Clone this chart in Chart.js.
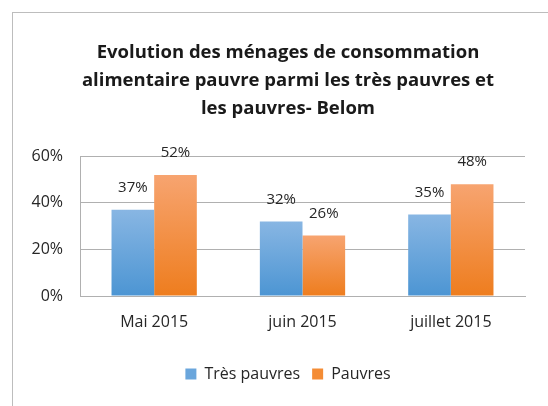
<!DOCTYPE html>
<html>
<head>
<meta charset="utf-8">
<script src="https://cdn.jsdelivr.net/npm/chart.js@4"></script>
<style>
  html, body { margin: 0; padding: 0; background: #fff; overflow: hidden; }
  #frame { position: absolute; left: 12px; top: 12px; width: 600px; height: 500px; border: 1px solid #bdbdbd; }
  #wrap { position: absolute; left: 0; top: 0; width: 576px; height: 406px; }
</style>
</head>
<body>
<div id="frame"></div>
<div id="wrap"><canvas id="myChart" width="576" height="406"></canvas></div>
<script>
// values (percent)
var categories = ["Mai 2015", "juin 2015", "juillet 2015"];
var tresPauvres = [37, 32, 35];
var pauvres = [52, 26, 48];
var seriesNames = ["Très pauvres", "Pauvres"];
var yTicks = [0, 20, 40, 60];

var FONT = "'Open Sans', sans-serif";

// each bar gets its own top-to-bottom gradient, like the original
function barGradient(light, dark) {
  return function (ctx) {
    var chart = ctx.chart;
    var y = chart.scales.y;
    if (!chart.chartArea || !y || ctx.type !== 'data') return dark;
    var top = y.getPixelForValue(ctx.raw);
    var base = y.getPixelForValue(0);
    if (!isFinite(top) || !isFinite(base) || top === base) return dark;
    var g = chart.ctx.createLinearGradient(0, top, 0, base);
    g.addColorStop(0, light);
    g.addColorStop(1, dark);
    return g;
  };
}

// draws the value above each bar
var valueLabels = {
  id: 'valueLabels',
  afterDatasetsDraw: function (chart) {
    var ctx = chart.ctx;
    ctx.save();
    ctx.font = "15px " + FONT;
    ctx.fillStyle = "#262626";
    ctx.textAlign = "center";
    ctx.textBaseline = "middle";
    chart.data.datasets.forEach(function (ds, i) {
      var meta = chart.getDatasetMeta(i);
      meta.data.forEach(function (bar, j) {
        ctx.fillText(ds.data[j] + "%", bar.x, bar.y - 22);
      });
    });
    ctx.restore();
  }
};

// title and legend are centred on the whole frame, not on the plot
var centreBlocks = {
  id: 'centreBlocks',
  afterLayout: function (chart) {
    if (chart.titleBlock) chart.titleBlock.left = 51;
    if (chart.legend) chart.legend.left = 51;
  }
};

var solid = ["#6aa6dc", "#f48c35"];

new Chart(document.getElementById("myChart").getContext('2d'), {
  type: 'bar',
  data: {
    labels: categories,
    datasets: [
      { label: seriesNames[0], data: tresPauvres, backgroundColor: barGradient("#88b6e3", "#4c95d3") },
      { label: seriesNames[1], data: pauvres, backgroundColor: barGradient("#f7a470", "#ee7d1e") }
    ]
  },
  plugins: [valueLabels, centreBlocks],
  options: {
    responsive: false,
    animation: false,
    layout: { padding: { left: 0, right: 51, top: 39, bottom: 14 } },
    datasets: { bar: { categoryPercentage: 0.575, barPercentage: 1 } },
    scales: {
      x: {
        grid: { display: false, drawTicks: false },
        border: { color: "#b0b0b0" },
        ticks: { color: "#262626", font: { family: FONT, size: 16 }, padding: 17 },
        afterFit: function (s) { s.height = 58; }
      },
      y: {
        min: 0,
        max: 60,
        afterBuildTicks: function (s) { s.ticks = yTicks.map(function (v) { return { value: v }; }); },
        grid: { color: "#b0b0b0", drawTicks: false },
        border: { color: "#b0b0b0" },
        ticks: {
          color: "#262626",
          font: { family: FONT, size: 16 },
          padding: 17,
          callback: function (v) { return v + "%"; }
        },
        afterFit: function (s) { s.width = 80; }
      }
    },
    plugins: {
      title: {
        display: true,
        text: [
          "Evolution des ménages de consommation",
          "alimentaire pauvre parmi les très pauvres et",
          "les pauvres- Belom"
        ],
        color: "#1a1a1a",
        font: { family: FONT, size: 18.5, weight: 'bold', lineHeight: 1.5 },
        padding: { top: 0, bottom: 34 }
      },
      legend: {
        position: 'bottom',
        labels: {
          color: "#262626",
          font: { family: FONT, size: 16 },
          boxWidth: 11,
          boxHeight: 11,
          padding: 12,
          generateLabels: function (chart) {
            var items = Chart.defaults.plugins.legend.labels.generateLabels(chart);
            items.forEach(function (it, i) {
              it.fillStyle = solid[i];
              it.strokeStyle = solid[i];
              it.lineWidth = 0;
            });
            return items;
          }
        }
      },
      tooltip: { enabled: false }
    }
  }
});
</script>
</body>
</html>
